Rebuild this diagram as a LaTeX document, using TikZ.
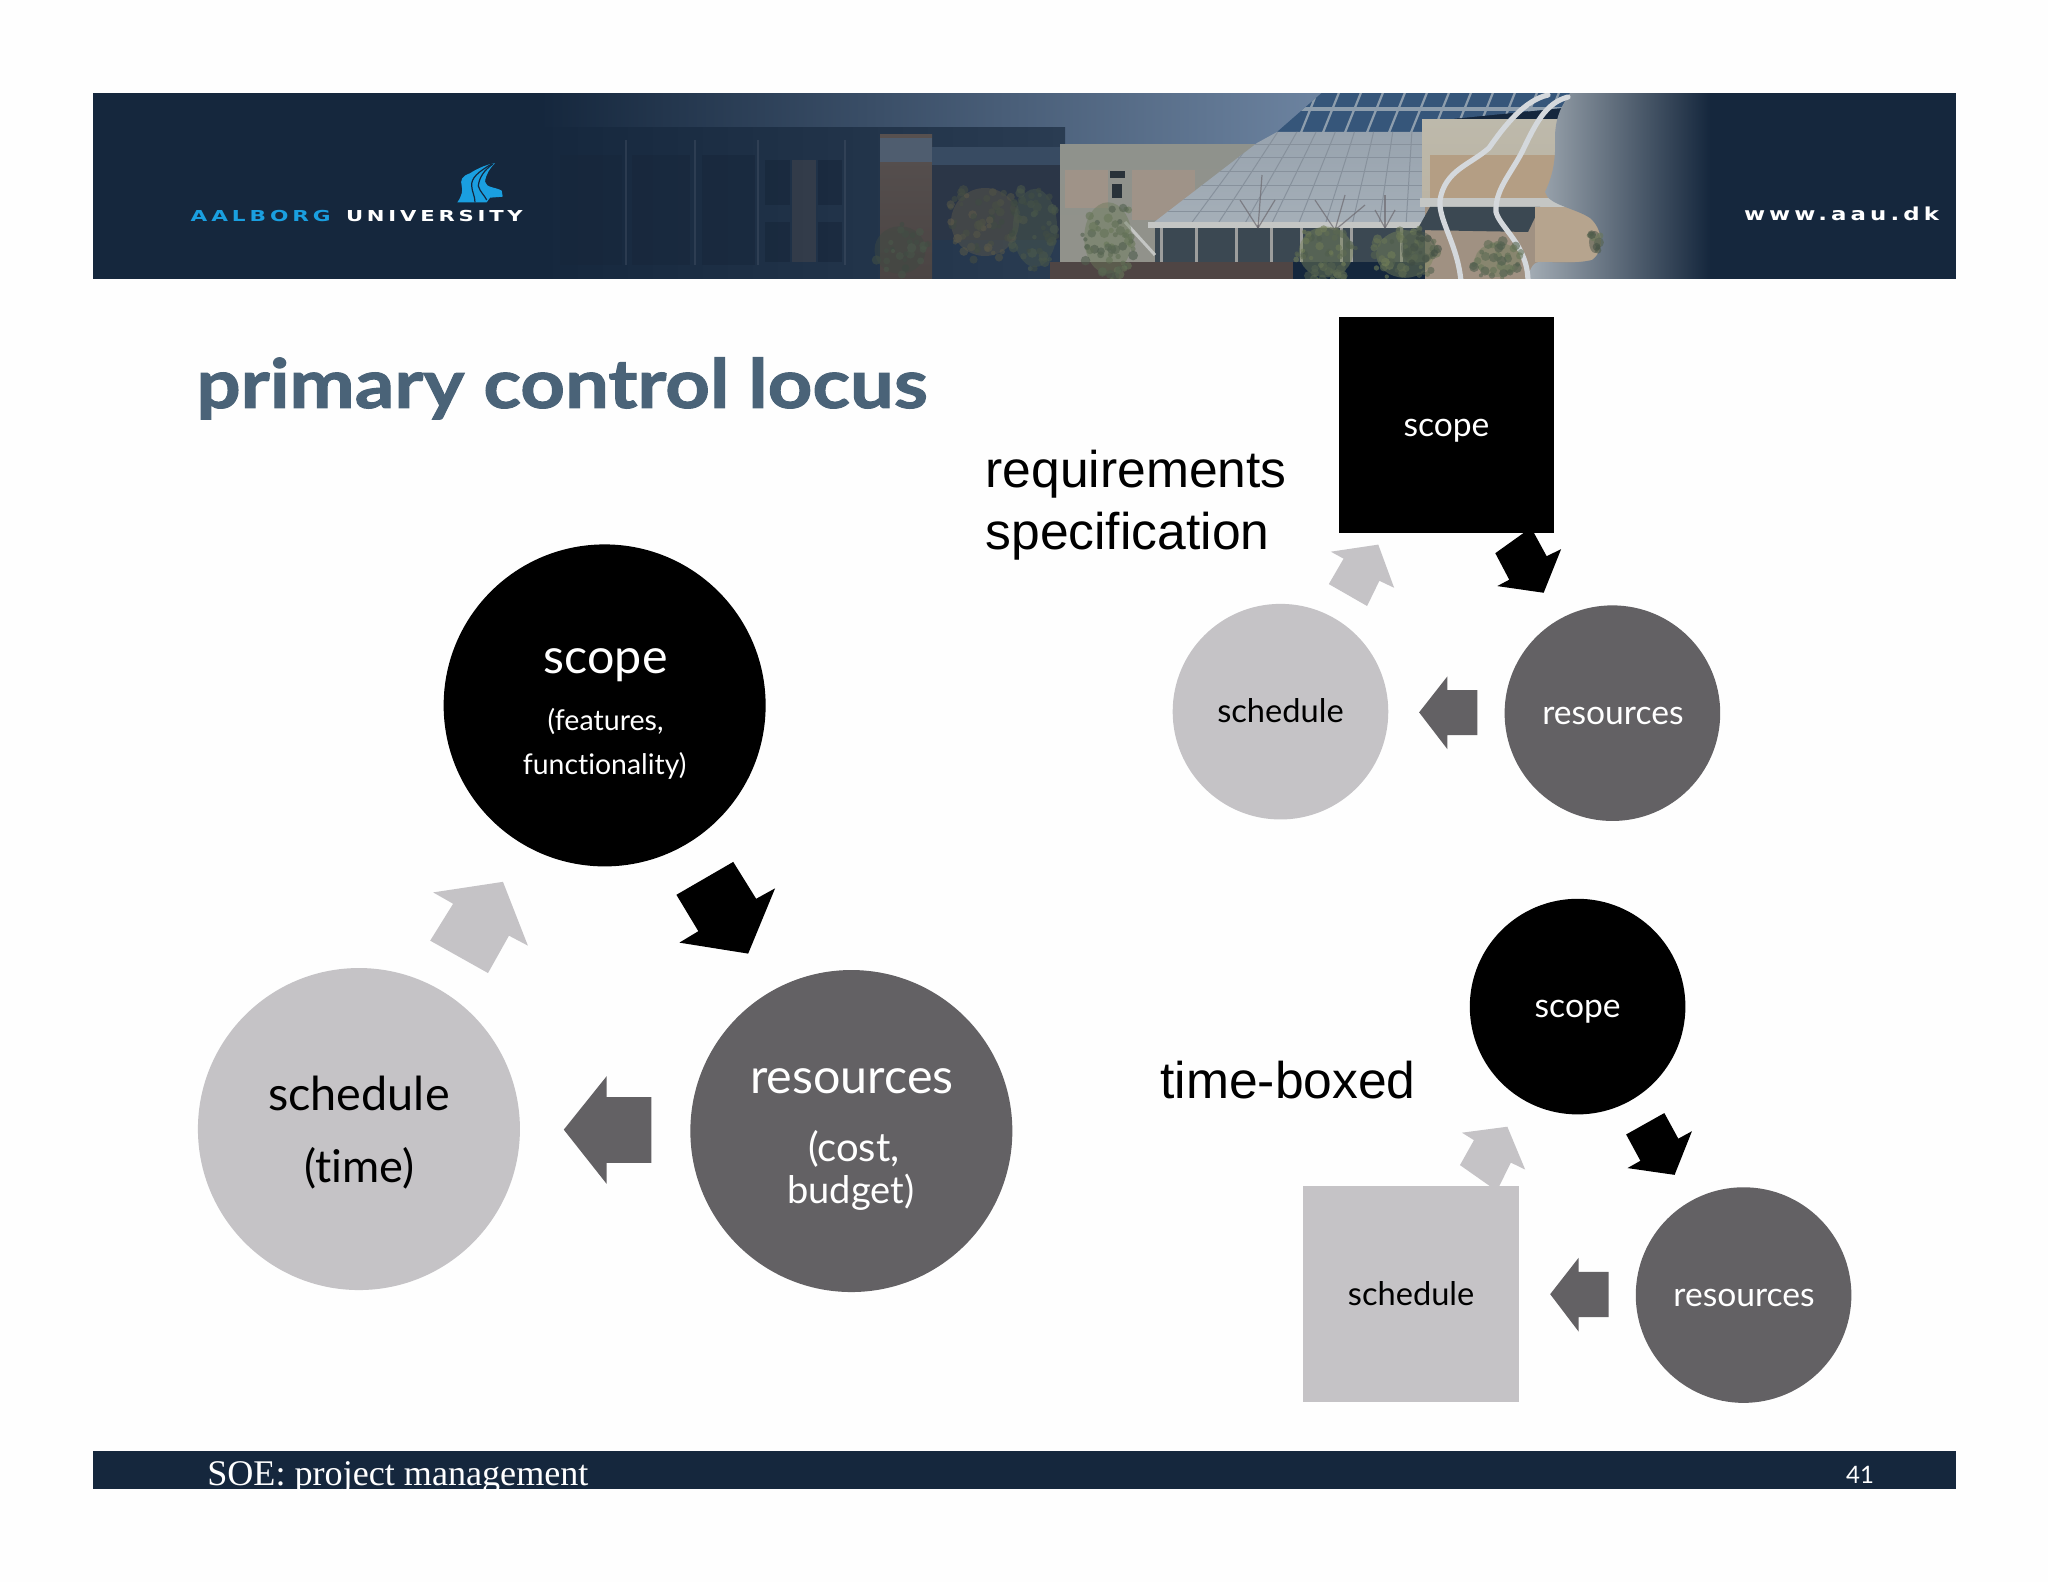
\documentclass[tikz,border=0pt]{standalone}
\usepackage{fontspec}
\setmainfont[Ligatures=NoCommon]{Lato}
\newfontfamily\arialf{Liberation Sans}
\newfontfamily\timesf{Liberation Serif}
\newfontfamily\titlef[FakeBold=1.4]{Lato Bold}
\newfontfamily\wideLogo[LetterSpace=18]{DejaVu Sans Bold}
\definecolor{navy}{HTML}{15273D}
\definecolor{lgray}{HTML}{C5C3C6}
\definecolor{dgray}{HTML}{636164}
\definecolor{titleblue}{HTML}{4A6378}
\definecolor{logoblue}{HTML}{1A9FE0}
\definecolor{glassblue}{HTML}{36567A}
\definecolor{skyhi}{HTML}{6F86A3}
\definecolor{pane}{HTML}{8E9EAD}
\definecolor{glasslo}{HTML}{A5AFB8}
\definecolor{glasshi}{HTML}{98A3AE}
\definecolor{glassline}{HTML}{87919C}
\definecolor{walltop}{HTML}{BDB9AB}
\definecolor{brick}{HTML}{B49E84}
\definecolor{brickdim}{HTML}{8F928C}
\definecolor{panel}{HTML}{9F9388}
\definecolor{bandlight}{HTML}{C4C6C4}
\definecolor{banddark}{HTML}{3B4852}
\definecolor{groundc}{HTML}{A09182}
\definecolor{fadeA}{HTML}{A5AEB6}
\definecolor{fadeB}{HTML}{5C6A7B}
\definecolor{stemc}{HTML}{D4D8DC}
\definecolor{bldgB}{HTML}{2A3C52}
\definecolor{wins}{HTML}{17263A}
\definecolor{winr}{HTML}{2B3647}
\definecolor{towerT}{HTML}{4F5D6F}
\definecolor{towerB}{HTML}{57504F}
\definecolor{treeA}{HTML}{5F5A4A}
\definecolor{treeB}{HTML}{4C5A4C}
\definecolor{treeC}{HTML}{6B7A5A}
\definecolor{treeD}{HTML}{78845A}
\definecolor{treeE}{HTML}{3E4A42}
\definecolor{hedge}{HTML}{4F4544}
\definecolor{twigc}{HTML}{6D6A70}
\newcommand{\fsz}[1]{\fontsize{#1}{#1}\selectfont}
% mottled foliage: centre x, centre y, radii x and y, two colours, number of leaves
\newcommand{\leafy}[7]{%
  \fill[#5,opacity=.45] (#1,#2) ellipse ({#3*.85} and {#4*.85});
  \foreach \leaf in {1,...,#7}{%
    \pgfmathsetmacro{\la}{rnd*360}%
    \pgfmathsetmacro{\lr}{sqrt(rnd)}%
    \pgfmathsetmacro{\lm}{int(rnd*100)}%
    \pgfmathsetmacro{\ls}{2+rnd*3}%
    \fill[#5!\lm!#6,opacity=.6] ({#1+#3*\lr*cos(\la)},{#2+#4*\lr*sin(\la)}) circle (\ls);
  }%
}
\tikzset{
  lbl/.style={anchor=base,inner sep=0pt,outer sep=0pt},
  disc/.style={circle,inner sep=0pt,outer sep=0pt,draw=none},
  bigdisc/.style={disc,minimum size=161pt},
  smalldisc/.style={disc,minimum size=107.8pt},
  smallbox/.style={rectangle,inner sep=0pt,outer sep=0pt,draw=none,minimum size=107.8pt},
  big/.style={lbl,font=\fsz{24.2}},
  small/.style={lbl,font=\fsz{16.8}},
  note/.style={lbl,anchor=base west,font=\arialf\fsz{25.8}},
  twig/.style={draw=#1,line width=.6pt,opacity=.7},
  strand/.style={draw=#1,line width=2.6pt,line cap=round}
}
\begin{document}
\begin{tikzpicture}[x=0.5pt,y=-0.5pt]
\useasboundingbox (0,0) rectangle (2048,1582);
\fill[white!99.5!black] (0,0) rectangle (2048,1582);
\pgfmathsetseed{4242}
% ---------- banner ----------
\fill[navy] (93,93) rectangle (1956,279);
\begin{scope}
\clip (93,93.8) rectangle (1956,278.6);
% sky
\shade[left color=navy,right color=skyhi] (540,90) rectangle (1345,150);
% dim left building
\shade[left color=navy,right color=bldgB] (540,128) rectangle (1065,282);
\fill[wins,opacity=.45] (560,155) rectangle (622,265);
\fill[wins,opacity=.45] (632,155) rectangle (690,265);
\fill[wins,opacity=.5] (702,155) rectangle (755,265);
\fill[wins,opacity=.6] (765,160) rectangle (790,205);
\fill[wins,opacity=.6] (818,160) rectangle (842,205);
\fill[wins,opacity=.6] (765,222) rectangle (790,262);
\fill[wins,opacity=.6] (818,222) rectangle (842,262);
\fill[towerB,opacity=.35] (792,160) rectangle (816,262);
\foreach \cx in {626,695,758,845}{\draw[towerT,opacity=.35,line width=1.2pt] (\cx,140) -- (\cx,265);}
\shade[top color=towerB,bottom color=towerB!85!black] (880,135) rectangle (932,282);
\fill[towerT] (880,138) rectangle (932,162);
\fill[bldgB!80!skyhi] (932,147) rectangle (1062,165);
\fill[winr] (932,165) rectangle (1060,240);
% low wing
\shade[top color=brickdim,bottom color=brickdim!85!groundc] (1060,145) rectangle (1260,262);
\fill[panel] (1065,170) rectangle (1108,208);
\fill[panel] (1132,170) rectangle (1195,220);
\fill[banddark!70!black] (1110,171) rectangle (1125,178);
\fill[banddark!70!black] (1112,184) rectangle (1122,198);
% blue glass
\begin{scope}
\clip (1277,132) -- (1325,90) -- (1580,90) -- (1562,108) -- (1422,122) -- (1422,132) -- cycle;
\fill[glassblue] (1270,90) rectangle (1585,135);
\foreach \gx in {0,...,13} {
  \draw[pane,line width=1.1pt] ({1300+\gx*22},135) -- ({1318+\gx*22},90);
}
\draw[pane,line width=1.8pt] (1270,109) -- (1585,109);
\end{scope}
% pale glass
\shade[top color=glasshi,bottom color=glasslo] (1153,223) -- (1257,143) -- (1277,132) -- (1422,132) -- (1428,223) -- cycle;
\begin{scope}
\clip (1153,223) -- (1257,143) -- (1277,132) -- (1422,132) -- (1428,223) -- cycle;
\foreach \gy in {145,158,172,186,200,212} { \draw[glassline,line width=.5pt] (1150,\gy) -- (1430,\gy); }
\foreach \gx in {0,...,8} { \draw[glassline,line width=.5pt] ({1190+\gx*27},225) -- ({1260+\gx*19},130); }
\end{scope}
% entrance
\fill[bandlight] (1148,222) rectangle (1432,228);
\fill[banddark] (1155,228) rectangle (1430,262);
\foreach \ex in {1160,1195,1235,1270,1300,1340,1350,1400} { \fill[bandlight!80!black] (\ex,228) rectangle ++(3,34); }
\draw[bandlight,line width=1.5pt] (1125,222) -- (1155,255);
% tower
\shade[top color=walltop,bottom color=walltop!80!brick] (1422,120) rectangle (1580,205);
\fill[brick] (1430,155) rectangle (1580,198);
\fill[bandlight] (1420,198) rectangle (1580,207);
\fill[groundc] (1425,207) rectangle (1580,282);
\fill[banddark] (1417,230) -- (1430,207) -- (1540,207) -- (1528,232) -- cycle;
\fill[brick!85!bandlight] (1535,207) rectangle (1610,262);
% right-hand fade with the curved edge of the photograph
\shade[left color=fadeA,middle color=fadeB,right color=navy]
  (1572,90) .. controls (1562,105) and (1556,115) .. (1555,135)
  .. controls (1556,160) and (1553,175) .. (1545,192)
  .. controls (1548,205) and (1575,208) .. (1590,218)
  .. controls (1602,228) and (1606,250) .. (1592,260)
  .. controls (1575,264) and (1555,262) .. (1540,262)
  .. controls (1532,262) and (1530,270) .. (1526,282)
  -- (1710,282) -- (1710,90) -- cycle;
% bare trees
\foreach \ta/\tb in {1258/225,1240/200,1275/200,1262/175}{\draw[twig=twigc] (1258,228) -- (\ta,\tb);}
\foreach \ta/\tb in {1330/228,1345/195,1315/200,1365/205}{\draw[twig=twigc] (1335,230) -- (\ta,\tb);}
\foreach \ta/\tb in {1385/195,1375/210,1395/210}{\draw[twig=twigc] (1385,228) -- (\ta,\tb);}
% sculpture
\draw[strand=stemc] (1548,95) .. controls (1525,100) and (1505,125) .. (1489,148)
  .. controls (1470,165) and (1445,170) .. (1440,200)
  .. controls (1438,220) and (1458,245) .. (1461,282);
\draw[strand=stemc] (1568,97) .. controls (1545,103) and (1535,125) .. (1522,152)
  .. controls (1510,175) and (1495,190) .. (1496,212)
  .. controls (1500,228) and (1528,245) .. (1528,282);
% trees
\fill[hedge] (1050,262) rectangle (1293,282);
\leafy{985}{222}{40}{40}{treeA}{treeE}{60}
\leafy{1035}{228}{26}{46}{treeB}{treeE}{45}
\leafy{900}{250}{30}{28}{treeE}{treeB}{25}
\leafy{1108}{238}{28}{42}{treeC}{treeB}{55}
\leafy{1326}{252}{32}{30}{treeD}{treeB}{50}
\leafy{1405}{254}{34}{28}{treeD}{treeB}{50}
\leafy{1498}{260}{27}{20}{treeC}{treeB}{35}
\leafy{1418}{248}{20}{20}{treeB}{treeE}{12}
\leafy{1595}{242}{7}{13}{treeE}{treeC}{10}
\end{scope}
% logo
\fill[logoblue] (457.3,202.3) .. controls (462,196) and (463,190) .. (461.7,186)
  .. controls (460,180) and (462,176) .. (470,173.3)
  .. controls (478,168) and (488,164) .. (495,163.3)
  .. controls (490,168) and (486,174) .. (485,181.7)
  .. controls (486,188) and (496,187) .. (501.7,190.7)
  -- (502.7,196.7) -- (490,197.7) -- (486.7,202.3) -- cycle;
\draw[navy,line width=.6pt] (491.7,164) .. controls (478,172) and (471,178) .. (471.7,186) .. controls (472,192) and (475,196) .. (475,202.3);
\draw[navy,line width=.6pt] (493,164) .. controls (484,170) and (479,178) .. (478.3,186) .. controls (480,192) and (485,196) .. (486.7,200);
\node[lbl,anchor=base west,text=logoblue] (aalborg) at (190.7,222) {\resizebox{70pt}{5.6pt}{\wideLogo AALBORG}};
\node[lbl,anchor=base west,text=white] (university) at (346,222) {\resizebox{88.4pt}{5.6pt}{\wideLogo UNIVERSITY}};
\node[lbl,anchor=base west,text=white] (www) at (1744,221) {\resizebox{97.5pt}{6.8pt}{\wideLogo www.aau.dk}};
% title
\node[lbl,anchor=base west,text=titleblue,font=\titlef\fsz{34}] (title) at (196.5,408) {\scalebox{1.145}[1]{primary control locus}};
% ---------- big cycle ----------
\begin{scope}[shift={(180,520)},scale=.9968,shift={(-180,-520)}]
\fill[black] (735,863) -- (758,900) -- (777,889.5) -- (750,955) -- (681,944) -- (700,932.5) -- (678,896) -- cycle;
\fill[lgray] (504,883) -- (529,947) -- (510,937) -- (489,974.5) -- (431,942) -- (454,905) -- (434,893.6) -- cycle;
\fill[dgray] (565,1131.6) -- (608,1078) -- (608,1099) -- (653,1099) -- (653,1165) -- (608,1165) -- (608,1186) -- cycle;
\node[bigdisc,fill=black] (bscope) at (606,706) {};
\node[bigdisc,fill=lgray] (bsched) at (359.5,1131) {};
\node[bigdisc,fill=dgray] (bres) at (853.5,1133) {};
\node[big,text=white] (bscopeT) at (607,674) {scope};
\node[lbl,font=\fsz{14.3},text=white] (bfeat) at (607,731) {(features,};
\node[lbl,font=\fsz{14.2},text=white] (bfunc) at (606,775) {functionality)};
\node[lbl,font=\fsz{23.4},text=black] (bschedT) at (359.5,1112) {schedule};
\node[lbl,font=\fsz{22.6},text=black] (btime) at (360,1185) {(time)};
\node[big,text=white] (bresT) at (854,1095.5) {resources};
\node[lbl,font=\fsz{20},text=white] (bcost) at (856,1164) {(cost,};
\node[lbl,font=\fsz{19},text=white] (bbudg) at (853,1206) {budget)};
\end{scope}
% ---------- requirements specification ----------
\begin{scope}[shift={(960,300)},scale=.9968,shift={(-960,-300)}]
\fill[black] (1530.6,530) -- (1535.7,533.5) -- (1548.5,557) -- (1563,550) -- (1545.5,593.7) -- (1499,587) -- (1511,580.6) -- (1497,554) -- cycle;
\fill[lgray] (1379.6,545.4) -- (1395.5,588.7) -- (1380.7,581.7) -- (1368.4,607) -- (1330,585) -- (1344.8,559.5) -- (1332,552.5) -- cycle;
\fill[dgray] (1420.6,713.7) -- (1449,677.5) -- (1449,691.5) -- (1479,691.5) -- (1479,736.6) -- (1449,736.6) -- (1449,750.7) -- cycle;
\node[smallbox,fill=black] (rscope) at (1448,425.5) {};
\node[smalldisc,fill=lgray] (rsched) at (1281.5,713) {};
\node[smalldisc,fill=dgray] (rres) at (1614.5,714.5) {};
\node[small,text=white] (rscopeT) at (1448,437) {scope};
\node[lbl,font=\fsz{16.3},text=black] (rschedT) at (1281.5,724) {schedule};
\node[small,text=white] (rresT) at (1615,725.5) {resources};
\node[note] (req) at (985.6,488.6) {requirements};
\node[note] (spec) at (985.6,550) {specification};
\end{scope}
% ---------- time-boxed ----------
\begin{scope}[shift={(1140,880)},scale=.9968,shift={(-1140,-880)}]
\fill[black] (1666,1113.8) -- (1680,1139.5) -- (1693.7,1132) -- (1676.3,1175.8) -- (1629,1169) -- (1642,1161.7) -- (1627.7,1135.3) -- cycle;
\fill[lgray] (1508.5,1127.5) -- (1526.4,1170.5) -- (1512,1163.5) -- (1498,1192) -- (1461,1166) -- (1475,1141) -- (1463,1133.5) -- cycle;
\fill[dgray] (1551.5,1295.5) -- (1580,1259) -- (1580,1273) -- (1610,1273) -- (1610,1318.4) -- (1580,1318.4) -- (1580,1333) -- cycle;
\node[smalldisc,fill=black] (tscope) at (1579,1007) {};
\node[smallbox,fill=lgray] (tsched) at (1411.7,1295.5) {};
\node[smalldisc,fill=dgray] (tres) at (1745.5,1296.4) {};
\node[small,text=white] (tscopeT) at (1579,1018) {scope};
\node[lbl,font=\fsz{16.3},text=black] (tschedT) at (1412,1306.5) {schedule};
\node[small,text=white] (tresT) at (1746,1307.5) {resources};
\node[note] (tbox) at (1160.5,1099.5) {time-boxed};
\end{scope}
% ---------- footer ----------
\fill[navy] (93,1451) rectangle (1956,1489);
\node[lbl,anchor=base west,text=white,font=\timesf\fsz{18.06}] (soe) at (207.3,1485) {SOE: project management};
\node[lbl,anchor=base,text=white,font=\fsz{12}] (pagenum) at (1860,1483) {41};
\end{tikzpicture}
\end{document}
